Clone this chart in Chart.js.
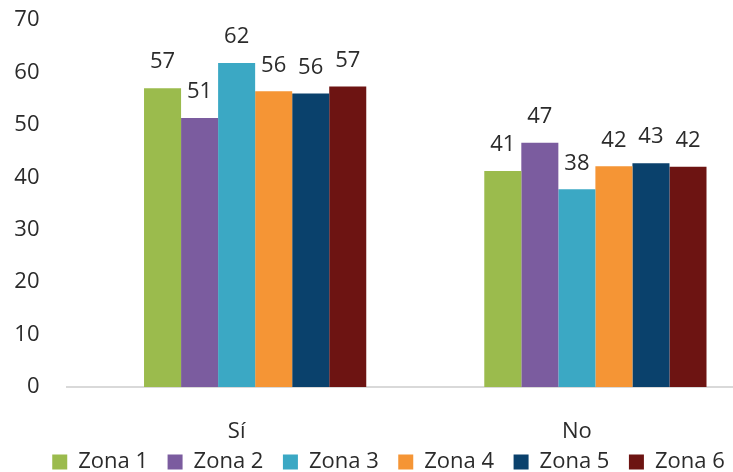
<!DOCTYPE html>
<html>
<head>
<meta charset="utf-8">
<script src="https://cdn.jsdelivr.net/npm/chart.js@4"></script>
<style>
  html, body { margin: 0; padding: 0; background: #fff; overflow: hidden; }
  /* the plot area runs a little past the right edge of the picture */
  #wrap { width: 747px; height: 472px; }
</style>
</head>
<body>
<div id="wrap"><canvas id="zonaChart"></canvas></div>
<script>
const categories = ["Sí", "No"];
const zonas = ["Zona 1", "Zona 2", "Zona 3", "Zona 4", "Zona 5", "Zona 6"];
// the original has an empty first series, which pushes the bars right of the label
const emptySeries = [null, null];
const zona1 = [57.0, 41.2];
const zona2 = [51.3, 46.6];
const zona3 = [61.8, 37.7];
const zona4 = [56.4, 42.1];
const zona5 = [56.0, 42.7];
const zona6 = [57.3, 42.0];
const yTicks = [0, 10, 20, 30, 40, 50, 60, 70];

const colors = ["#9BBB4D", "#7B5C9F", "#3BA8C4", "#F59535", "#0A416C", "#6D1412"];
const seriesValues = [zona1, zona2, zona3, zona4, zona5, zona6];

const textColor = "#2b2b2b";
const fontFamily = "'Open Sans', sans-serif";
const fontSize = 22;

// draws the rounded value above each bar
const valueLabels = {
  id: "valueLabels",
  afterDatasetsDraw(chart) {
    const ctx = chart.ctx;
    ctx.save();
    ctx.font = fontSize + "px " + fontFamily;
    ctx.fillStyle = textColor;
    ctx.textAlign = "center";
    ctx.textBaseline = "middle";
    chart.data.datasets.forEach((ds, i) => {
      const meta = chart.getDatasetMeta(i);
      meta.data.forEach((bar, j) => {
        if (ds.data[j] == null) return;
        ctx.fillText(Math.round(ds.data[j]), bar.x, bar.y - 26);
      });
    });
    ctx.restore();
  }
};

// legend sits a bit right of centre and closer to the axis labels in the original
const shiftLegend = {
  id: "shiftLegend",
  afterLayout(chart) {
    const lg = chart.legend;
    lg.left += 15;
    lg.right += 15;
    lg.top -= 15.5;
    lg.bottom -= 15.5;
  }
};

const datasets = [{ label: "", data: emptySeries, backgroundColor: "rgba(0,0,0,0)" }].concat(
  zonas.map((name, i) => ({
    label: name,
    data: seriesValues[i],
    backgroundColor: colors[i],
    borderWidth: 0
  }))
);

new Chart(document.getElementById("zonaChart"), {
  type: "bar",
  data: { labels: categories, datasets: datasets },
  plugins: [valueLabels, shiftLegend],
  options: {
    responsive: true,
    maintainAspectRatio: false,
    animation: false,
    layout: { padding: { top: 20, right: 0, left: 0, bottom: -26.5 } },
    datasets: {
      bar: { barPercentage: 1, categoryPercentage: 0.762 }
    },
    plugins: {
      legend: {
        position: "bottom",
        labels: {
          boxWidth: 15,
          boxHeight: 15,
          padding: 19.5,
          color: textColor,
          font: { family: fontFamily, size: fontSize },
          filter: item => item.text !== ""
        }
      },
      tooltip: { enabled: false }
    },
    scales: {
      x: {
        afterFit(scale) {
          scale.height = 60;
        },
        grid: { display: false },
        border: { color: "#D9D9D9", width: 2 },
        ticks: {
          color: textColor,
          padding: 24,
          font: { family: fontFamily, size: fontSize }
        }
      },
      y: {
        min: 0,
        max: 70,
        afterBuildTicks(scale) {
          scale.ticks = yTicks.map(v => ({ value: v }));
        },
        afterFit(scale) {
          scale.width = 66.5;
        },
        grid: { display: false, tickLength: 21 },
        border: { display: false },
        ticks: {
          color: textColor,
          padding: 6,
          font: { family: fontFamily, size: fontSize }
        }
      }
    }
  }
});
</script>
</body>
</html>
